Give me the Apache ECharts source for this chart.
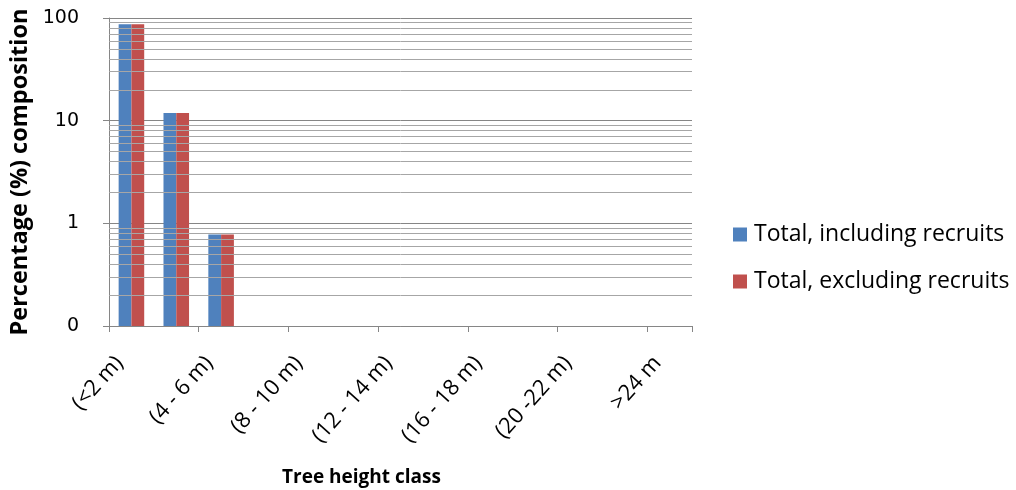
<!DOCTYPE html>
<html>
<head>
<meta charset="utf-8">
<script src="https://cdn.jsdelivr.net/npm/echarts@6/dist/echarts.min.js"></script>
<style>
  html, body { margin: 0; padding: 0; background: #fff; }
  #chart { width: 1016px; height: 490px; }
</style>
</head>
<body>
<div id="chart"></div>
<script>
const categories = ['(<2 m)', '(2 - 4 m)', '(4 - 6 m)', '(6 - 8 m)', '(8 - 10 m)', '(10 - 12 m)', '(12 - 14 m)',
  '(14 - 16 m)', '(16 - 18 m)', '(18 - 20 m)', '(20 -22 m)', '(22 - 24 m)', '>24 m'];
const includingRecruits = [87, 11.9, 0.78, 0, 0, 0, 0, 0, 0, 0, 0, 0, 0];
const excludingRecruits = [87, 11.9, 0.78, 0, 0, 0, 0, 0, 0, 0, 0, 0, 0];
const seriesNames = ['Total, including recruits', 'Total, excluding recruits'];
const yTickLabels = { 0.1: '0', 1: '1', 10: '10', 100: '100' };

const Y_MIN = 0.1, Y_MAX = 100;
const CAT_GAP = 0.43;
const minorLines = [];
[0.1, 1, 10].forEach(d => { for (let k = 2; k <= 9; k++) minorLines.push({ yAxis: k * d }); });

function barSeries(name, values, color, slot) {
  return {
    name: name,
    type: 'custom',
    coordinateSystem: 'cartesian2d',
    itemStyle: { color: color },
    encode: { x: 0, y: 1 },
    data: values.map((v, i) => [i, v > 0 ? v : '-']),
    z: 3,
    renderItem: function (params, api) {
      const v = api.value(1);
      if (!(v > 0)) return null;
      const idx = api.value(0);
      const top = api.coord([idx, v]);
      const base = api.coord([idx, Y_MIN]);
      const band = api.coord([1, Y_MIN])[0] - api.coord([0, Y_MIN])[0];
      const bw = band * (1 - CAT_GAP) / 2;
      const x = top[0] - bw + slot * bw;
      return {
        type: 'rect',
        shape: { x: x, y: top[1], width: bw, height: base[1] - top[1] },
        style: { fill: color }
      };
    }
  };
}

const sans = '"Open Sans", Lato, sans-serif';
const chart = echarts.init(document.getElementById('chart'));
chart.setOption({
  animation: false,
  grid: { left: 109, right: 324, top: 18, bottom: 164, containLabel: false, outerBoundsMode: 'none' },
  legend: {
    orient: 'vertical',
    left: 728,
    top: 218,
    itemWidth: 14,
    itemHeight: 14,
    itemGap: 24,
    icon: 'rect',
    data: seriesNames,
    textStyle: { fontFamily: sans, fontSize: 23, color: '#000', padding: [0, 0, 0, 2] }
  },
  xAxis: {
    type: 'category',
    data: categories,
    name: 'Tree height class',
    nameLocation: 'middle',
    nameGap: 142,
    nameTextStyle: { fontFamily: sans, fontSize: 19, fontWeight: 'bold', color: '#000', padding: [0, 78, 0, 0] },
    axisLine: { lineStyle: { color: '#868686', width: 1 } },
    axisTick: { show: true, length: 6, lineStyle: { color: '#868686' } },
    axisLabel: { interval: 1, rotate: 48, fontFamily: sans, fontSize: 22, color: '#000', margin: 20, padding: [0, 18, 0, 0] },
    splitLine: { show: false }
  },
  yAxis: {
    type: 'log',
    logBase: 10,
    min: Y_MIN,
    max: Y_MAX,
    name: 'Percentage (%) composition',
    nameLocation: 'middle',
    nameGap: 74,
    nameRotate: 90,
    nameTextStyle: { fontFamily: sans, fontSize: 23.5, fontWeight: 'bold', color: '#000' },
    axisLine: { show: true, lineStyle: { color: '#868686', width: 1 } },
    axisTick: { show: true, length: 6, lineStyle: { color: '#868686' } },
    axisLabel: {
      fontFamily: '"DejaVu Sans", sans-serif', fontSize: 19, color: '#000', margin: 30,
      formatter: v => yTickLabels[Math.round(v * 10) / 10] ?? String(v)
    },
    splitLine: { show: true, lineStyle: { color: '#868686', width: 1 } }
  },
  series: [
    {
      name: 'gridMinor',
      type: 'line',
      data: [],
      z: 1,
      silent: true,
      markLine: {
        silent: true,
        symbol: 'none',
        label: { show: false },
        lineStyle: { color: '#a6a6a6', width: 1, type: 'solid' },
        emphasis: { disabled: true },
        data: minorLines
      }
    },
    barSeries(seriesNames[0], includingRecruits, '#4F81BD', 0),
    barSeries(seriesNames[1], excludingRecruits, '#C0504D', 1)
  ]
});
</script>
</body>
</html>
